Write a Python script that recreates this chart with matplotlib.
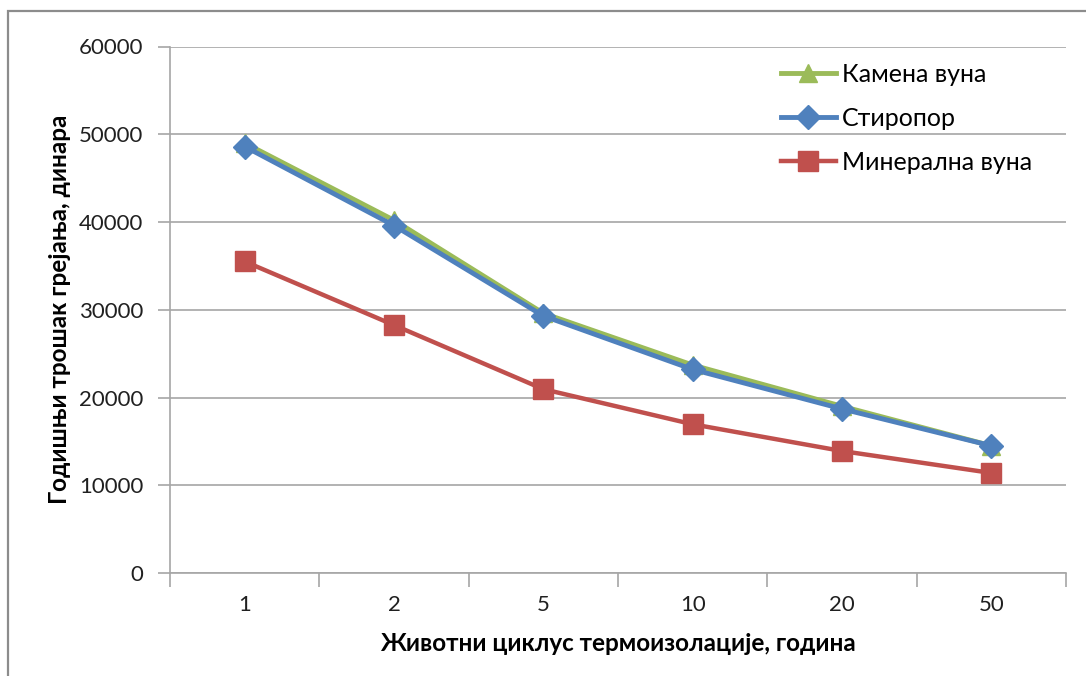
import numpy as np
import matplotlib
matplotlib.use('Agg')
import matplotlib.pyplot as plt
from matplotlib.patches import Rectangle

plt.rcParams['font.family'] = ['Lato', 'DejaVu Sans']

categories = ['1', '2', '5', '10', '20', '50']
kamena_vuna = [49000, 40200, 29600, 23700, 19000, 14500]
stiropor = [48600, 39600, 29300, 23200, 18700, 14500]
mineralna_vuna = [35500, 28250, 20950, 16950, 13900, 11400]

x = np.arange(len(categories))
grey = '#a6a6a6'

fig = plt.figure(figsize=(10.86, 6.76), dpi=100)
ax = fig.add_axes([170/1086, 1 - 573/676, 896/1086, (573 - 46.5)/676])

# outer chart frame (only left and top edge are inside the picture)
fig.patches.append(Rectangle((8/1086, -0.1), 1.2, 1 - 11/676 + 0.1, transform=fig.transFigure,
                             fill=False, edgecolor='#8c8c8c', linewidth=1.6))

ax.plot(x, kamena_vuna, color='#9bbb59', lw=3.5, marker='^', ms=13, label='Камена вуна', zorder=3)
ax.plot(x, stiropor, color='#4f81bd', lw=3.5, marker='D', ms=12, label='Стиропор', zorder=4)
ax.plot(x, mineralna_vuna, color='#c0504d', lw=3.2, marker='s', ms=14, label='Минерална вуна', zorder=3)

ax.set_xlim(-0.5, len(categories) - 0.5)
ax.set_ylim(0, 60000)
ax.set_yticks(np.arange(0, 60001, 10000))
ax.yaxis.grid(True, color=grey, lw=1.2)
ax.set_axisbelow(True)

ax.set_xticks(x)
ax.set_xticklabels(categories)
ax.set_xticks(np.arange(-0.5, len(categories)), minor=True)
ax.tick_params(axis='x', which='major', length=0, pad=16, labelsize=16, labelcolor='#202020')
ax.tick_params(axis='x', which='minor', length=10, color=grey, width=1.2)
ax.tick_params(axis='y', length=9, color=grey, width=1.2, pad=10, labelsize=16, labelcolor='#202020')

for s in ['top', 'right']:
    ax.spines[s].set_visible(False)
for s in ['left', 'bottom']:
    ax.spines[s].set_color(grey)
    ax.spines[s].set_linewidth(1.2)

ax.set_xlabel('Животни циклус термоизолације, година', fontsize=17.5, fontweight='bold', labelpad=12)
ax.set_ylabel('Годишњи трошак грејања, динара', fontsize=17.5, fontweight='bold', labelpad=6)

ax.legend(loc='upper left', bbox_to_anchor=(0.665, 0.998), frameon=False, fontsize=18,
          handlelength=2.2, handletextpad=0.25, labelspacing=0.85, borderaxespad=0.2)

fig.savefig('out.png', dpi=100)
